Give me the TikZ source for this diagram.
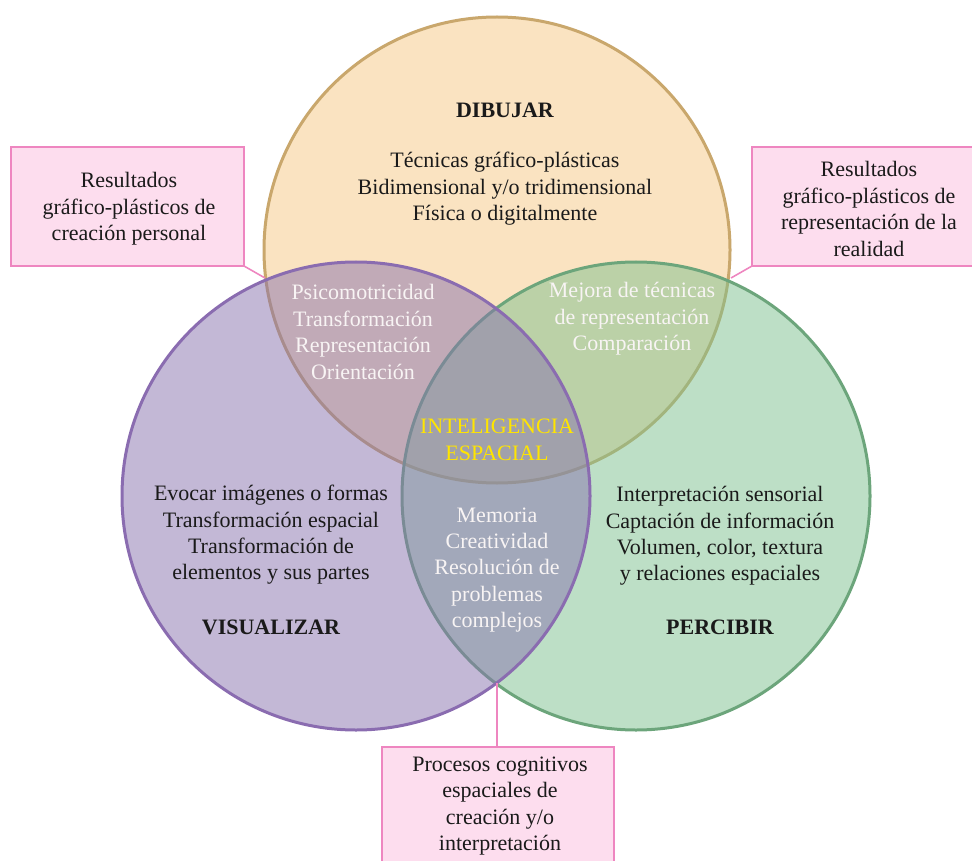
\documentclass[tikz,border=0pt]{standalone}
\usepackage{fontspec}
\setmainfont{Liberation Serif}
\definecolor{topfill}{HTML}{F7C985}
\definecolor{topline}{HTML}{C9A76C}
\definecolor{leftfill}{HTML}{8973AF}
\definecolor{leftline}{HTML}{8A6CB0}
\definecolor{rightfill}{HTML}{7DC18F}
\definecolor{rightline}{HTML}{6CA57B}
\definecolor{boxfill}{HTML}{FDDDEE}
\definecolor{boxline}{HTML}{EE86C0}
\definecolor{txt}{HTML}{1A1A1A}
\definecolor{lighttxt}{HTML}{F8F4F4}
\definecolor{goldtxt}{HTML}{FFE500}
\begin{document}
\begin{tikzpicture}[x=1pt,y=-1pt,
  venn/.style={fill opacity=0.5, line width=3pt},
  lbl/.style={align=center, inner sep=0pt, text=txt, font=\fontsize{22}{26.4}\selectfont},
  head/.style={lbl, font=\fontsize{22}{26.4}\selectfont\bfseries},
  wlbl/.style={lbl, text=lighttxt},
  ylbl/.style={lbl, text=goldtxt},
  pinkbox/.style={draw=boxline, fill=boxfill, line width=1.6pt},
  link/.style={draw=boxline, line width=1.6pt}]
\useasboundingbox (0,0) rectangle (972,861);
\fill[white] (0,0) rectangle (972,861);
% circles
\draw[venn, fill=topfill, draw=topline] (497,250) circle[radius=233pt];
\draw[venn, fill=rightfill, draw=rightline] (636,496) circle[radius=234pt];
\draw[venn, fill=leftfill, draw=leftline] (356,496) circle[radius=234pt];
% anchor points on circle intersections
\coordinate (pl) at (265,278);
\coordinate (pr) at (731,278);
\coordinate (pb) at (497,683);
% boxes
\draw[pinkbox] (11,147) rectangle (244,266);
\draw[pinkbox] (752,147) rectangle (985,266);
\draw[pinkbox] (382,747) rectangle (614,875);
\coordinate (bl) at (244,266);
\coordinate (br) at (752,266);
\coordinate (bb) at (497,747);
\draw[link] (bl) -- (pl);
\draw[link] (br) -- (pr);
\draw[link] (bb) -- (pb);
% box texts
\node[lbl] (tl) at (129,209) {Resultados\\gráfico-plásticos de\\creación personal};
\node[lbl] (tr) at (869,209) {Resultados\\gráfico-plásticos de\\representación de la\\realidad};
\node[lbl] (tb) at (500,806) {Procesos cognitivos\\espaciales de\\creación y/o\\interpretación};
% circle texts
\node[head] (dib) at (505,110) {DIBUJAR};
\node[lbl] (dibt) at (505,189) {Técnicas gráfico-plásticas\\Bidimensional y/o tridimensional\\Física o digitalmente};
\node[wlbl] (tlo) at (363,332) {Psicomotricidad\\Transformación\\Representación\\Orientación};
\node[wlbl] (tro) at (632,319) {Mejora de técnicas\\de representación\\Comparación};
\node[ylbl] (cen) at (497,440) {INTELIGENCIA\\ESPACIAL};
\node[lbl] (vist) at (271,535) {Evocar imágenes o formas\\Transformación espacial\\Transformación de\\elementos y sus partes};
\node[head] (vis) at (271,627) {VISUALIZAR};
\node[wlbl] (bot) at (497,570) {Memoria\\Creatividad\\Resolución de\\problemas\\complejos};
\node[lbl] (pert) at (720,536) {Interpretación sensorial\\Captación de información\\Volumen, color, textura\\y relaciones espaciales};
\node[head] (per) at (720,627) {PERCIBIR};
\end{tikzpicture}
\end{document}
